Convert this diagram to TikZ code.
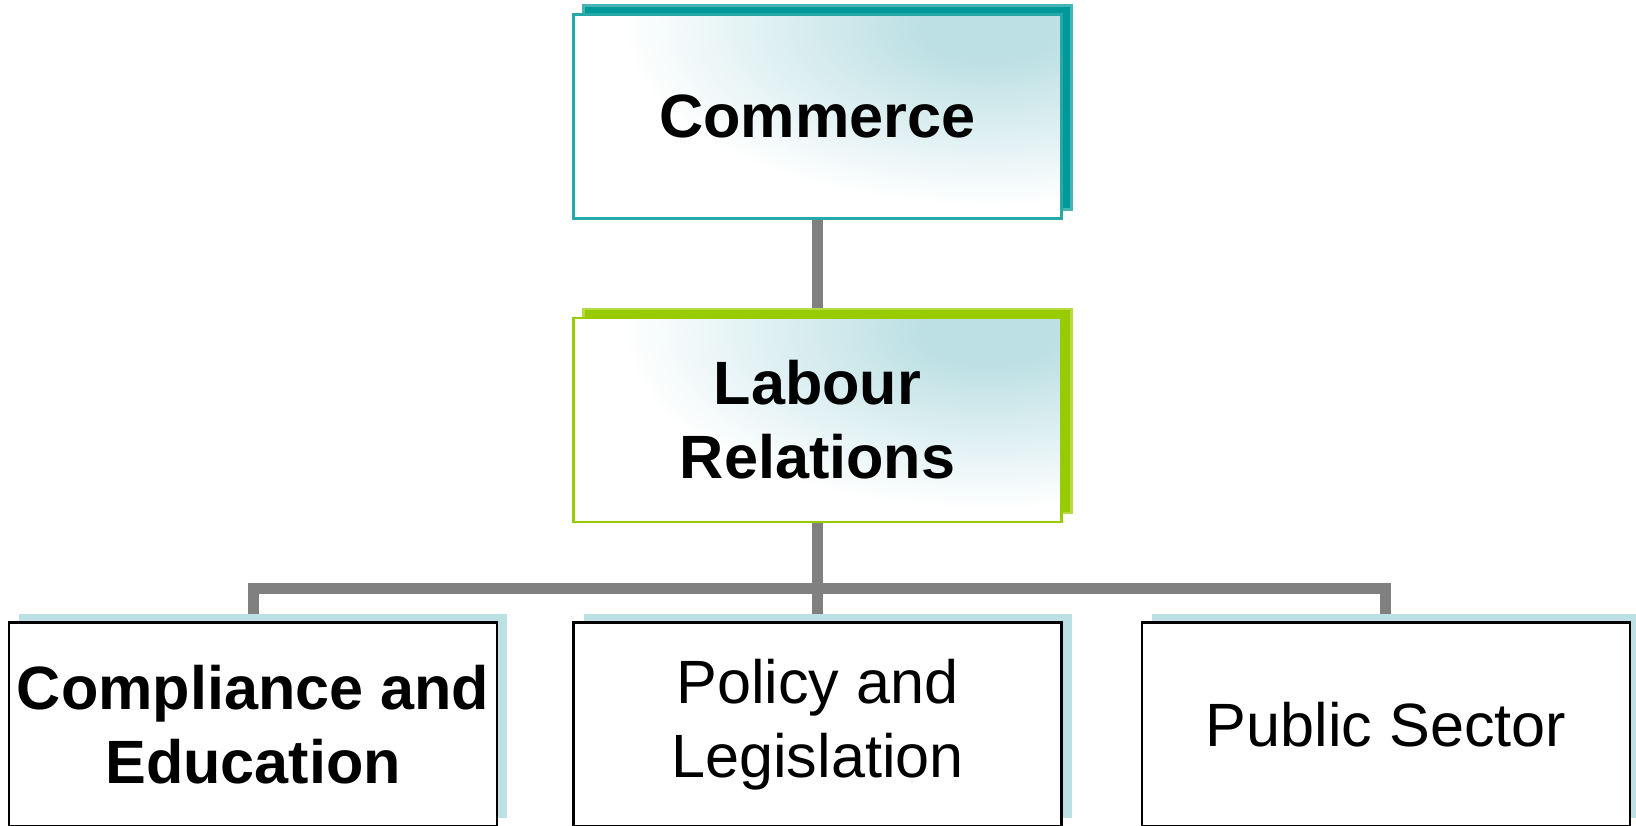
\documentclass[tikz,border=0pt]{standalone}
\usepackage{fontspec}
\setmainfont{Liberation Sans}
\usepackage{xcolor}
\definecolor{headTeal}{RGB}{0,153,153}
\definecolor{headTealEdge}{RGB}{70,180,180}
\definecolor{unitGreen}{RGB}{153,204,0}
\definecolor{unitGreenEdge}{RGB}{180,218,70}
\definecolor{glowBlue}{RGB}{189,224,228}
\definecolor{linkGray}{RGB}{128,128,128}
\usetikzlibrary{positioning, shadows, backgrounds}

% radial glow that is already white well inside its outline
\pgfdeclareradialshading{cornerglow}{\pgfpointorigin}{%
  color(0bp)=(glowBlue); color(4bp)=(glowBlue); color(22bp)=(white); color(50bp)=(white)}

\tikzset{
  chartbox/.style={rectangle, minimum width=4.88cm, minimum height=2.04cm,
    inner sep=0pt, align=center, fill=white, line width=0.7pt,
    font=\fontsize{17.4}{21}\selectfont},
  % top two boxes: soft glow from the upper right corner
  glowbox/.style={chartbox, font=\fontsize{17.4}{21}\selectfont\bfseries,
    path picture={\shade[shading=cornerglow]
      ([xshift=-0.69cm, yshift=-0.15cm]path picture bounding box.north east)
      ellipse (4.1cm and 2.0cm);}},
  headbox/.style={glowbox, draw=headTeal!85!white,
    general shadow={shadow xshift=1mm, shadow yshift=0.9mm, fill=headTeal, draw=headTealEdge}},
  unitbox/.style={glowbox, draw=unitGreen,
    general shadow={shadow xshift=1mm, shadow yshift=0.9mm, fill=unitGreen, draw=unitGreenEdge}},
  teambox/.style={chartbox, draw=black,
    general shadow={shadow xshift=1mm, shadow yshift=0.8mm, fill=glowBlue}},
  link/.style={draw=linkGray, line width=0.11cm}
}

\begin{document}
\begin{tikzpicture}
  \useasboundingbox (0,0) rectangle (16.36,8.25);

  \node[headbox] (commerce) at (8.175,7.085) {Commerce};
  \node[unitbox, below=0.97cm of commerce] (labour) {Labour\\Relations};

  \node[teambox, below=0.98cm of labour] (policy) {Policy and\\Legislation};
  \node[teambox, font=\fontsize{17.4}{21}\selectfont\bfseries, left=0.74cm of policy] (comply) {Compliance and\\Education};
  \node[teambox, right=0.78cm of policy] (pubsec) {Public Sector};

  % connectors sit behind the boxes and their shadows
  \begin{scope}[on background layer]
    \draw[link] (commerce.south) -- (labour.north);
    \draw[link] (labour.south) -- (labour.south |- policy.north);
    \draw[link] (comply.north) -- ++(0,0.33) -| (pubsec.north);
  \end{scope}
\end{tikzpicture}
\end{document}
